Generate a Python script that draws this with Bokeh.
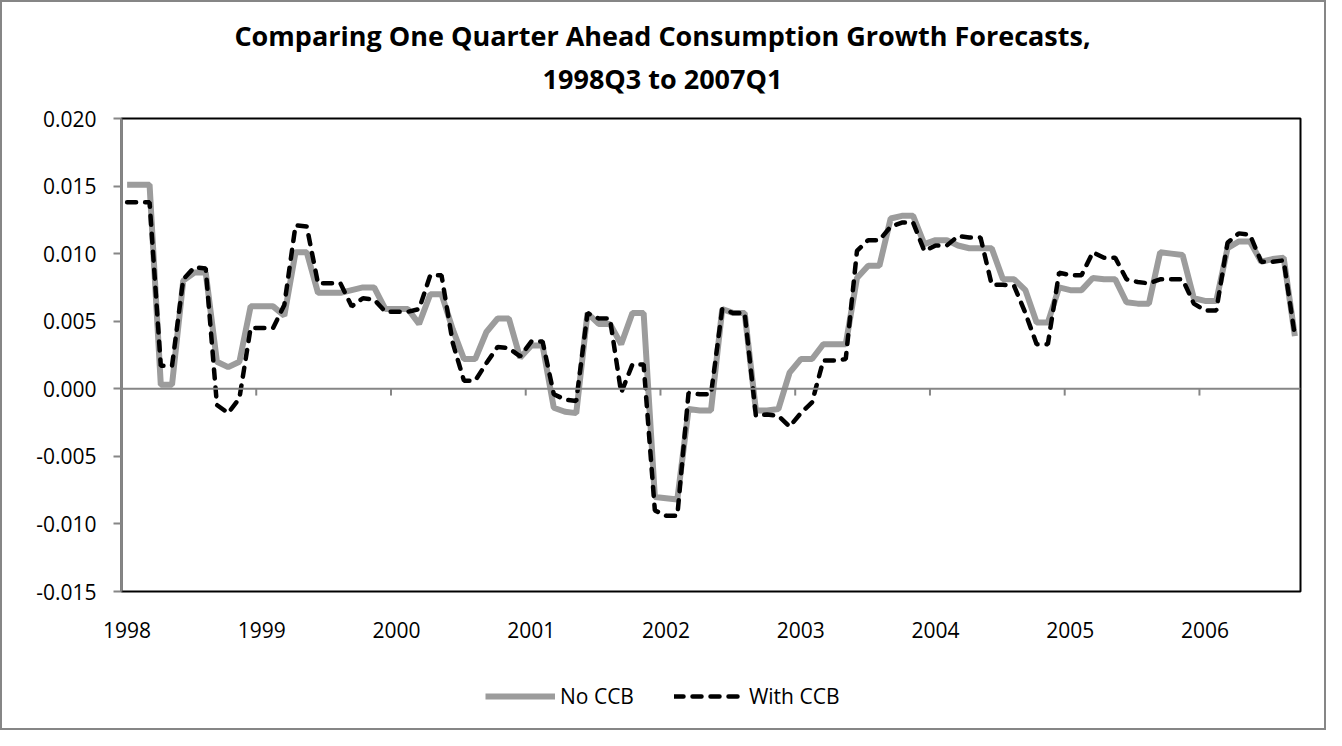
from bokeh.plotting import figure
from bokeh.layouts import column
from bokeh.models import (FixedTicker, Range1d, Legend, LegendItem, Span,
                          NumeralTickFormatter)
from bokeh.core.properties import value
from bokeh.embed import file_html
from bokeh.resources import INLINE

# ---- data (monthly, Jan 1998 .. Sep 2006) ----
years = ["1998", "1999", "2000", "2001", "2002", "2003", "2004", "2005", "2006"]

no_ccb = [
    0.0151, 0.0151, 0.0151, 0.0003, 0.0003, 0.0080, 0.0086, 0.0086, 0.0020, 0.0016,
    0.0020, 0.0061, 0.0061, 0.0061, 0.0054, 0.0101, 0.0101, 0.0071, 0.0071, 0.0071,
    0.0073, 0.0075, 0.0075, 0.0059, 0.0059, 0.0059, 0.0048, 0.0070, 0.0070, 0.0044,
    0.0022, 0.0022, 0.0042, 0.0052, 0.0052, 0.0023, 0.0032, 0.0032, -0.0014, -0.0017,
    -0.0018, 0.0056, 0.0048, 0.0048, 0.0033, 0.0056, 0.0056, -0.0080, -0.0081, -0.0082,
    -0.0015, -0.0016, -0.0016, 0.0059, 0.0056, 0.0056, -0.0016, -0.0016, -0.0015, 0.0012,
    0.0022, 0.0022, 0.0033, 0.0033, 0.0033, 0.0082, 0.0091, 0.0091, 0.0126, 0.0128,
    0.0128, 0.0107, 0.0110, 0.0110, 0.0106, 0.0104, 0.0104, 0.0104, 0.0081, 0.0081,
    0.0073, 0.0049, 0.0049, 0.0075, 0.0073, 0.0073, 0.0082, 0.0081, 0.0081, 0.0064,
    0.0063, 0.0063, 0.0101, 0.0100, 0.0099, 0.0067, 0.0065, 0.0065, 0.0104, 0.0109,
    0.0109, 0.0094, 0.0096, 0.0097, 0.0039,
]

with_ccb = [
    0.0138, 0.0138, 0.0138, 0.0017, 0.0017, 0.0081, 0.0090, 0.0089, -0.0012, -0.0018,
    -0.0007, 0.0045, 0.0045, 0.0045, 0.0062, 0.0121, 0.0120, 0.0078, 0.0078, 0.0078,
    0.0061, 0.0067, 0.0066, 0.0057, 0.0057, 0.0057, 0.0059, 0.0084, 0.0084, 0.0034,
    0.0006, 0.0006, 0.0019, 0.0031, 0.0030, 0.0024, 0.0035, 0.0035, -0.0004, -0.0008,
    -0.0009, 0.0056, 0.0052, 0.0052, -0.0003, 0.0018, 0.0018, -0.0090, -0.0094, -0.0094,
    -0.0003, -0.0004, -0.0004, 0.0059, 0.0056, 0.0056, -0.0020, -0.0019, -0.0020, -0.0028,
    -0.0018, -0.0010, 0.0021, 0.0021, 0.0022, 0.0102, 0.0110, 0.0110, 0.0120, 0.0123,
    0.0123, 0.0102, 0.0106, 0.0106, 0.0113, 0.0112, 0.0112, 0.0077, 0.0077, 0.0076,
    0.0056, 0.0033, 0.0033, 0.0086, 0.0084, 0.0084, 0.0101, 0.0097, 0.0097, 0.0081,
    0.0079, 0.0078, 0.0081, 0.0081, 0.0081, 0.0063, 0.0058, 0.0058, 0.0108, 0.0115,
    0.0114, 0.0094, 0.0094, 0.0095, 0.0039,
]

y_ticks = [-0.015, -0.010, -0.005, 0.0, 0.005, 0.010, 0.015, 0.020]
title_lines = ["Comparing One Quarter Ahead Consumption Growth Forecasts,",
               "1998Q3 to 2007Q1"]
series_names = ["No CCB", "With CCB"]

n = len(no_ccb)
# each month is a category two units wide; points sit at category centres
x = [2 * i + 1 for i in range(n)]
boundary_ticks = [24 * k for k in range(1, len(years))]
label_ticks = [24 * k + 1 for k in range(len(years))]

FONT = "Open Sans"
AX = "#868686"
FS = "21px"
W = 1322
BL, BR = 119, 24                      # left / right borders -> same frame in all strips
GRAY = dict(line_color="#9c9c9c", line_width=6)
DASH = dict(line_color="black", line_width=4.5, line_dash="9 9", line_cap="round")


def strip(h):
    f = figure(width=W, height=h, output_backend="svg", toolbar_location=None,
               x_range=Range1d(BL, W - BR), y_range=Range1d(0, h),
               x_axis_type=None, y_axis_type=None,
               min_border_left=BL, min_border_right=BR,
               min_border_top=0, min_border_bottom=0)
    f.outline_line_color = None
    f.grid.grid_line_color = None
    return f


# ---------------- title strip (x in canvas pixels) ----------------
HT = 100
pt = strip(HT)
pt.text(x=[660, 660], y=[HT - 33, HT - 76], text=title_lines,
        text_font=value(FONT), text_font_size="27px", text_font_style="bold",
        text_color="black", text_align="center", text_baseline="middle")

# ---------------- main chart ----------------
HL = 80
HP = 726 - HT - HL
p = figure(width=W, height=HP, output_backend="svg", toolbar_location=None,
           x_range=Range1d(0, 2 * n), y_range=Range1d(y_ticks[0], y_ticks[-1]),
           min_border_left=BL, min_border_right=BR, min_border_top=116 - HT,
           min_border_bottom=HT + HP - 589)
p.background_fill_color = "white"
p.border_fill_color = "white"
p.outline_line_color = "black"
p.outline_line_width = 2
p.grid.grid_line_color = None

# x axis: labels only at the bottom
p.xaxis.ticker = FixedTicker(ticks=label_ticks)
p.xaxis.major_label_overrides = {t: yr for t, yr in zip(label_ticks, years)}
p.xaxis.major_tick_line_color = None
p.xaxis.major_tick_out = 0
p.xaxis.major_tick_in = 0
p.xaxis.minor_tick_line_color = None
p.xaxis.axis_line_color = None
p.xaxis.major_label_standoff = 30
p.xaxis.major_label_text_font = FONT
p.xaxis.major_label_text_font_size = FS
p.xaxis.major_label_text_color = "black"

# y axis
p.yaxis.ticker = FixedTicker(ticks=y_ticks)
p.yaxis.formatter = NumeralTickFormatter(format="0.000")
p.yaxis.axis_line_color = AX
p.yaxis.axis_line_width = 2
p.yaxis.major_tick_line_color = AX
p.yaxis.major_tick_line_width = 2
p.yaxis.major_tick_out = 8
p.yaxis.major_tick_in = 0
p.yaxis.minor_tick_line_color = None
p.yaxis.major_label_standoff = 17
p.yaxis.major_label_text_font = FONT
p.yaxis.major_label_text_font_size = FS
p.yaxis.major_label_text_color = "black"

# horizontal axis line crossing at zero, with its tick marks
p.add_layout(Span(location=0, dimension="width", line_color=AX, line_width=2))
p.segment(x0=boundary_ticks, y0=[0] * len(boundary_ticks),
          x1=boundary_ticks, y1=[-0.0005] * len(boundary_ticks),
          line_color=AX, line_width=2)

p.line(x, no_ccb, **GRAY)
p.line(x, with_ccb, **DASH)

# ---------------- legend strip ----------------
pl = strip(HL)
# legend proxies lie outside the visible range, so only their legend swatches show
l1 = pl.line([-5000, -4990], [0, 0], **GRAY)
l2 = pl.line([-5000, -4990], [0, 0], **DASH)
legend = Legend(items=[LegendItem(label=series_names[0], renderers=[l1]),
                       LegendItem(label=series_names[1], renderers=[l2])],
                orientation="horizontal", location=(483 - BL, 18),
                border_line_color=None, background_fill_alpha=0,
                glyph_width=70, glyph_height=26, label_standoff=5, spacing=40,
                padding=0, margin=0,
                label_text_font=FONT, label_text_font_size=FS,
                label_text_color="black")
pl.add_layout(legend)

layout = column(pt, p, pl, spacing=0)
layout.styles = {"border": "2px solid #868686"}

open("out.html", "w").write(file_html(layout, INLINE))
